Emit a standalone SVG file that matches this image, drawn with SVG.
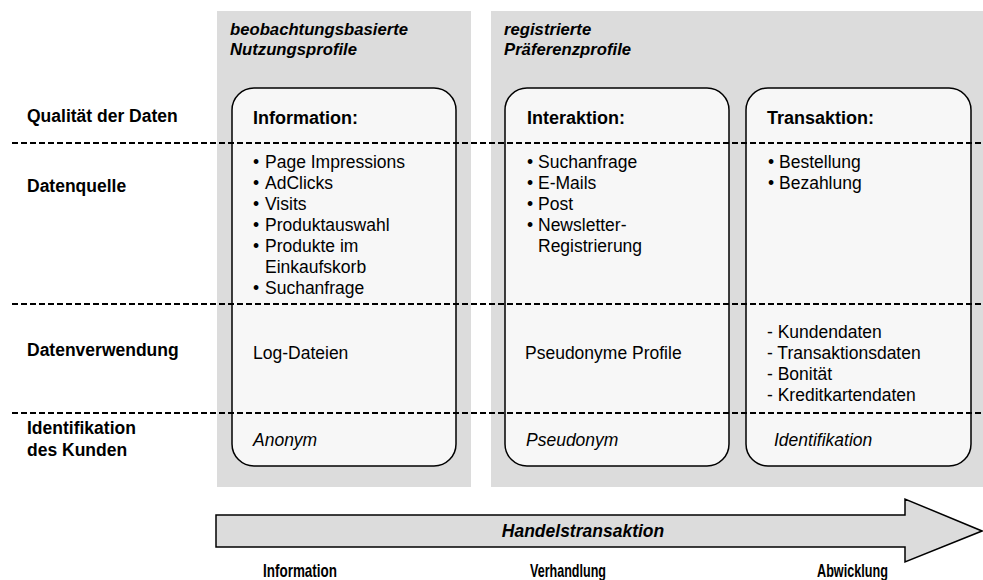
<svg xmlns="http://www.w3.org/2000/svg" width="983" height="580" viewBox="0 0 983 580">
<style>
text{font-family:"Liberation Sans",Arial,sans-serif;fill:#000}
.t{font-size:17.5px}
.b{font-size:17.5px;font-weight:bold}
.h{font-size:18px;font-weight:bold}
.pt{font-size:16.7px;font-weight:bold;font-style:italic}
.i{font-size:17.5px;font-style:italic}
.bi{font-size:17.5px;font-weight:bold;font-style:italic}
.n{font-size:18.5px;font-weight:bold}
.panel{fill:#dcdcdc}
.box{fill:#f7f7f7;stroke:#000;stroke-width:1.5}
.dash{stroke:#000;stroke-width:2;stroke-dasharray:6 3;fill:none}
</style>
<rect width="983" height="580" fill="#fff"/>
<g id="panel-beobachtung">
<rect class="panel" x="217" y="11" width="254" height="476"/>
<text class="pt" x="230" y="35">beobachtungsbasierte</text>
<text class="pt" x="230" y="55">Nutzungsprofile</text>
</g>
<g id="panel-registriert">
<rect class="panel" x="491" y="11" width="492" height="476"/>
<text class="pt" x="504" y="35">registrierte</text>
<text class="pt" x="504" y="55">Präferenzprofile</text>
</g>
<g id="box-information">
<rect class="box" x="232" y="88" width="224" height="378" rx="22" ry="22"/>
<text class="h" x="253" y="124">Information:</text>
<text class="t"><tspan x="253" y="168">•</tspan><tspan x="265" y="168">Page Impressions</tspan><tspan x="253" y="189">•</tspan><tspan x="265" y="189">AdClicks</tspan><tspan x="253" y="210">•</tspan><tspan x="265" y="210">Visits</tspan><tspan x="253" y="231">•</tspan><tspan x="265" y="231">Produktauswahl</tspan><tspan x="253" y="252">•</tspan><tspan x="265" y="252">Produkte im</tspan><tspan x="265" y="273">Einkaufskorb</tspan><tspan x="253" y="294">•</tspan><tspan x="265" y="294">Suchanfrage</tspan></text>
<text class="t" x="253" y="359">Log-Dateien</text>
<text class="i" x="253" y="446">Anonym</text>
</g>
<g id="box-interaktion">
<rect class="box" x="505" y="88" width="224" height="378" rx="22" ry="22"/>
<text class="h" x="527" y="124">Interaktion:</text>
<text class="t"><tspan x="527" y="168">•</tspan><tspan x="538" y="168">Suchanfrage</tspan><tspan x="527" y="189">•</tspan><tspan x="538" y="189">E-Mails</tspan><tspan x="527" y="210">•</tspan><tspan x="538" y="210">Post</tspan><tspan x="527" y="231">•</tspan><tspan x="538" y="231">Newsletter-</tspan><tspan x="538" y="252">Registrierung</tspan></text>
<text class="t" x="525" y="359">Pseudonyme Profile</text>
<text class="i" x="526" y="446">Pseudonym</text>
</g>
<g id="box-transaktion">
<rect class="box" x="746" y="88" width="225" height="378" rx="22" ry="22"/>
<text class="h" x="767" y="124">Transaktion:</text>
<text class="t"><tspan x="768" y="168">•</tspan><tspan x="779" y="168">Bestellung</tspan><tspan x="768" y="189">•</tspan><tspan x="779" y="189">Bezahlung</tspan></text>
<text class="t"><tspan x="767" y="338">- Kundendaten</tspan><tspan x="767" y="359">- Transaktionsdaten</tspan><tspan x="767" y="380">- Bonität</tspan><tspan x="767" y="401">- Kreditkartendaten</tspan></text>
<text class="i" x="774" y="446">Identifikation</text>
</g>
<g id="connectors">
<line class="dash" x1="12" y1="143" x2="983" y2="143"/>
<line class="dash" x1="12" y1="304" x2="983" y2="304"/>
<line class="dash" x1="12" y1="413" x2="983" y2="413"/>
</g>
<g id="row-labels">
<text class="b" x="27" y="122">Qualität der Daten</text>
<text class="b" x="27" y="192">Datenquelle</text>
<text class="b" x="27" y="356">Datenverwendung</text>
<text class="b" x="27" y="434">Identifikation</text>
<text class="b" x="27" y="456">des Kunden</text>
</g>
<g id="arrow-handelstransaktion">
<polygon points="216,515 905,515 905,499 982,531 905,562 905,547 216,547" fill="#dcdcdc" stroke="#000" stroke-width="1.5"/>
<text class="bi" x="583" y="537" text-anchor="middle">Handelstransaktion</text>
</g>
<g id="phase-labels">
<text class="n" x="263" y="577" textLength="74" lengthAdjust="spacingAndGlyphs">Information</text>
<text class="n" x="530" y="577" textLength="76" lengthAdjust="spacingAndGlyphs">Verhandlung</text>
<text class="n" x="817" y="577" textLength="71" lengthAdjust="spacingAndGlyphs">Abwicklung</text>
</g>
</svg>
